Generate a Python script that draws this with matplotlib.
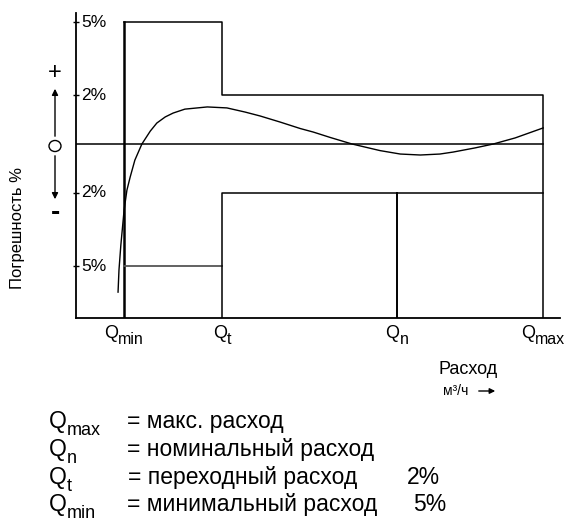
import matplotlib
matplotlib.use("Agg")
import matplotlib.pyplot as plt
from matplotlib.patches import Circle, FancyArrowPatch

plt.rcParams['font.family'] = ['Liberation Sans', 'DejaVu Sans']

# ---- data ----
flow_subs = ["min", "t", "n", "max"]              # Q_min, Q_t, Q_n, Q_max
flow_values = [10.3, 31.3, 68.7, 100.0]          # relative flow positions
upper_limits = [5, 2]                             # % error limit below / above Qt
lower_limits = [-5, -2]
ytick_values = [5, 2, -2, -5]
ytick_labels = ["5%", "2%", "2%", "5%"]

curve_x = [9.0, 9.2, 9.6, 10.3, 10.9, 11.6, 12.6, 14.1, 15.9, 17.3, 19.1, 20.8,
           23.3, 28.1, 32.3, 36.2, 39.4, 43.7, 48.0, 50.8, 54.4, 59.1, 65.1,
           69.4, 73.7, 77.9, 80.7, 85.4, 89.3, 94.0, 100.0]
curve_y = [-6.07, -5.16, -4.14, -2.70, -1.89, -1.35, -0.66, 0.0, 0.53, 0.86, 1.11, 1.27,
           1.43, 1.52, 1.48, 1.31, 1.15, 0.90, 0.635, 0.49, 0.27, 0.0, -0.27,
           -0.41, -0.45, -0.41, -0.33, -0.16, 0.0, 0.25, 0.66]

legend_subs = ["max", "n", "t", "min"]
legend_texts = ["= макс. расход", "= номинальный расход",
                "= переходный расход", "= минимальный расход"]
legend_pct = ["", "", "2%", "5%"]

# ---- figure ----
W, H = 570, 524
fig = plt.figure(figsize=(W / 100, H / 100), dpi=100)
fig.patch.set_facecolor('white')
ax = fig.add_axes([76 / W, 1 - 318 / H, (560 - 76) / W, (318 - 13) / H])

XMAX, YMIN, YMAX = 103.6, -7.13, 5.37
ax.set_xlim(0, XMAX)
ax.set_ylim(YMIN, YMAX)

qmin, qt, qn, qmax = flow_values
lw = 1.1
k = 'black'
# upper envelope
ax.plot([qmin, qmin], [YMIN, upper_limits[0]], color=k, lw=1.8)
ax.plot([qmin, qt, qt, qmax, qmax], [upper_limits[0], upper_limits[0], upper_limits[1],
                                     upper_limits[1], YMIN], color=k, lw=lw)
# lower envelope
ax.plot([qmin, qt], [lower_limits[0]] * 2, color='#555555', lw=1.3)
ax.plot([qt, qt, qmax], [YMIN, lower_limits[1], lower_limits[1]], color=k, lw=lw)
ax.plot([qn, qn], [YMIN, lower_limits[1]], color=k, lw=1.4)
# zero line
ax.plot([0, qmax], [0, 0], color=k, lw=lw)
# error curve
ax.plot(curve_x, curve_y, color=k, lw=1.0)

for s in ['top', 'right']:
    ax.spines[s].set_visible(False)
ax.spines['left'].set_linewidth(1.3)
ax.spines['bottom'].set_linewidth(1.3)

ax.set_xticks([])
ax.set_yticks(ytick_values)
ax.set_yticklabels([])
ax.tick_params(axis='y', direction='inout', length=5, width=1)
for v, lab in zip(ytick_values, ytick_labels):
    ax.annotate(lab, xy=(0, v), xycoords=('axes fraction', 'data'),
                xytext=(4, 0), textcoords='offset points',
                ha='left', va='center', fontsize=12.5)


def fx(px):
    return px / W


def fy(py):
    return 1 - py / H


renderer = fig.canvas.get_renderer()


def q_label(x_left, base_y, sub, fs_q, fs_sub, drop, center=False):
    tq = fig.text(0, 0, "Q", fontsize=fs_q, va='baseline', ha='left')
    ts = fig.text(0, 0, sub, fontsize=fs_sub, va='baseline', ha='left')
    wq = tq.get_window_extent(renderer).width
    ws = ts.get_window_extent(renderer).width
    left = x_left - (wq + ws) / 2 if center else x_left
    tq.set_position((fx(left), fy(base_y)))
    ts.set_position((fx(left + wq), fy(base_y + drop)))


# x tick labels (Q + lowered subscript), centred on each flow line
for xv, sub in zip(flow_values, flow_subs):
    xd = ax.transData.transform((xv, 0))[0]
    q_label(xd, 338, sub, 13, 11.5, 6, center=True)

# left sign indicators
fig.text(fx(55), fy(73), "+", ha='center', va='center', fontsize=17)
fig.text(fx(55), fy(213), "-", ha='center', va='center', fontsize=20,
         fontweight='bold')
fig.patches.append(Circle((fx(55), fy(146)), 6 / W, transform=fig.transFigure,
                          fill=False, ec='black', lw=1.0))
fig.add_artist(FancyArrowPatch((fx(55), fy(139)), (fx(55), fy(86)),
               transform=fig.transFigure, arrowstyle='-|>', mutation_scale=9,
               color='black', lw=1.0))
fig.add_artist(FancyArrowPatch((fx(55), fy(153)), (fx(55), fy(202)),
               transform=fig.transFigure, arrowstyle='-|>', mutation_scale=9,
               color='black', lw=1.0))
fig.text(fx(18), fy(228), "Погрешность %", rotation=90, ha='center', va='center',
         fontsize=12)

# x-axis caption
fig.text(fx(468), fy(370), "Расход", ha='center', va='center', fontsize=13)
fig.text(fx(443), fy(391), "м³/ч", ha='left', va='center', fontsize=10)
fig.add_artist(FancyArrowPatch((fx(476), fy(391)), (fx(498), fy(391)),
               transform=fig.transFigure, arrowstyle='-|>', mutation_scale=8,
               color='black', lw=1.0))

# legend
rows_base = [428, 456, 484, 511]
pct_x = [0, 0, 407, 413]
eq_x = [127, 127, 128, 127]
for i, (sb, tx, pc) in enumerate(zip(legend_subs, legend_texts, legend_pct)):
    q_label(49, rows_base[i], sb, 16.5, 13, 7)
    fig.text(fx(eq_x[i]), fy(rows_base[i]), tx, ha='left', va='baseline', fontsize=16.5)
    if pc:
        fig.text(fx(pct_x[i]), fy(rows_base[i]), pc, ha='left', va='baseline',
                 fontsize=16.5)

fig.savefig("out.png", dpi=100)
